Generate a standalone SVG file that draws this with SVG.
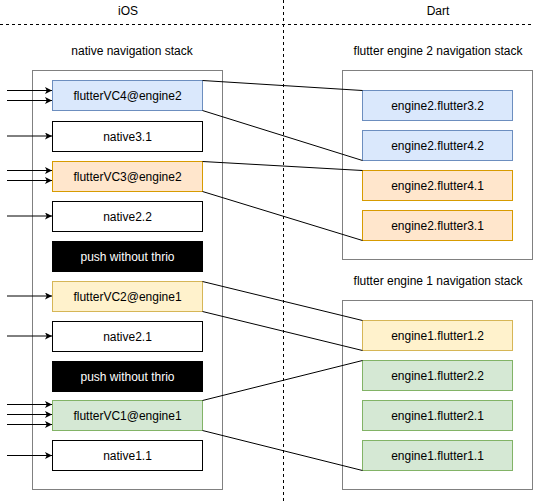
<svg xmlns="http://www.w3.org/2000/svg" width="533" height="501" viewBox="0 0 533 501">
<style>
text{font-family:"Liberation Sans",Arial,Helvetica,sans-serif;font-size:12px;fill:#000;text-anchor:middle}
.cont{fill:none;stroke:#808080;stroke-width:1}
.plain{fill:#fff;stroke:#000}
.black{fill:#000;stroke:none}
.blue{fill:#dae8fc;stroke:#6c8ebf}
.orange{fill:#ffe6cc;stroke:#d79b00}
.yellow{fill:#fff2cc;stroke:#d6b656}
.green{fill:#d5e8d4;stroke:#82b366}
.dash{stroke:#000;stroke-dasharray:3 3;fill:none}
.link{stroke:#000;fill:none;stroke-width:1}
.arr{stroke:#000;fill:none;stroke-width:1;marker-end:url(#ah)}
.w{fill:#fff}
</style>
<defs>
<marker id="ah" viewBox="0 0 10 10" refX="10" refY="5" markerWidth="7" markerHeight="7" markerUnits="userSpaceOnUse" orient="auto">
<path d="M0,0 L10,5 L0,10 L2.5,5 Z" fill="#000"/>
</marker>
</defs>
<g id="lanes">
<line class="dash" x1="0" y1="24.5" x2="533" y2="24.5"/>
<line class="dash" x1="283.5" y1="0" x2="283.5" y2="501"/>
<text x="128" y="15">iOS</text>
<text x="438" y="15">Dart</text>
</g>
<g id="native-stack">
<rect class="cont" x="32.5" y="70.5" width="190" height="419"/>
<text x="132" y="55">native navigation stack</text>
</g>
<g id="engine2-stack">
<rect class="cont" x="342.5" y="70.5" width="190" height="189"/>
<text x="438" y="55">flutter engine 2 navigation stack</text>
</g>
<g id="engine1-stack">
<rect class="cont" x="342.5" y="300.5" width="190" height="189"/>
<text x="438" y="285">flutter engine 1 navigation stack</text>
</g>
<g id="flutterVC4"><rect class="blue" x="52.5" y="80.5" width="150" height="30"/><text x="127.5" y="99.5">flutterVC4@engine2</text></g>
<g id="native3.1"><rect class="plain" x="52.5" y="121.5" width="150" height="30"/><text x="127.5" y="140.5">native3.1</text></g>
<g id="flutterVC3"><rect class="orange" x="52.5" y="161.5" width="150" height="30"/><text x="127.5" y="180.5">flutterVC3@engine2</text></g>
<g id="native2.2"><rect class="plain" x="52.5" y="201.5" width="150" height="30"/><text x="127.5" y="220.5">native2.2</text></g>
<g id="push1"><rect class="black" x="52" y="241" width="151" height="31"/><text class="w" x="127.5" y="260.5">push without thrio</text></g>
<g id="flutterVC2"><rect class="yellow" x="52.5" y="281.5" width="150" height="30"/><text x="127.5" y="300.5">flutterVC2@engine1</text></g>
<g id="native2.1"><rect class="plain" x="52.5" y="321.5" width="150" height="30"/><text x="127.5" y="340.5">native2.1</text></g>
<g id="push2"><rect class="black" x="52" y="361" width="151" height="31"/><text class="w" x="127.5" y="380.5">push without thrio</text></g>
<g id="flutterVC1"><rect class="green" x="52.5" y="400.5" width="150" height="30"/><text x="127.5" y="419.5">flutterVC1@engine1</text></g>
<g id="native1.1"><rect class="plain" x="52.5" y="440.5" width="150" height="30"/><text x="127.5" y="459.5">native1.1</text></g>
<g id="e2f32"><rect class="blue" x="362.5" y="90.5" width="150" height="30"/><text x="437.5" y="109.5">engine2.flutter3.2</text></g>
<g id="e2f42"><rect class="blue" x="362.5" y="130.5" width="150" height="30"/><text x="437.5" y="149.5">engine2.flutter4.2</text></g>
<g id="e2f41"><rect class="orange" x="362.5" y="170.5" width="150" height="30"/><text x="437.5" y="189.5">engine2.flutter4.1</text></g>
<g id="e2f31"><rect class="orange" x="362.5" y="210.5" width="150" height="30"/><text x="437.5" y="229.5">engine2.flutter3.1</text></g>
<g id="e1f12"><rect class="yellow" x="362.5" y="320.5" width="150" height="30"/><text x="437.5" y="339.5">engine1.flutter1.2</text></g>
<g id="e1f22"><rect class="green" x="362.5" y="360.5" width="150" height="30"/><text x="437.5" y="379.5">engine1.flutter2.2</text></g>
<g id="e1f21"><rect class="green" x="362.5" y="400.5" width="150" height="30"/><text x="437.5" y="419.5">engine1.flutter2.1</text></g>
<g id="e1f11"><rect class="green" x="362.5" y="440.5" width="150" height="30"/><text x="437.5" y="459.5">engine1.flutter1.1</text></g>
<g id="connectors">
<line class="link" x1="202.5" y1="80.5" x2="362.5" y2="90.5"/>
<line class="link" x1="202.5" y1="110.5" x2="362.5" y2="160.5"/>
<line class="link" x1="202.5" y1="161.5" x2="362.5" y2="170.5"/>
<line class="link" x1="202.5" y1="191.5" x2="362.5" y2="240.5"/>
<line class="link" x1="202.5" y1="281.5" x2="362.5" y2="320.5"/>
<line class="link" x1="202.5" y1="311.5" x2="362.5" y2="350.5"/>
<line class="link" x1="202.5" y1="400.5" x2="362.5" y2="360.5"/>
<line class="link" x1="202.5" y1="430.5" x2="362.5" y2="470.5"/>
<line class="arr" x1="7" y1="90.5" x2="52" y2="90.5"/>
<line class="arr" x1="7" y1="100.5" x2="52" y2="100.5"/>
<line class="arr" x1="7" y1="136" x2="52" y2="136"/>
<line class="arr" x1="7" y1="170.5" x2="52" y2="170.5"/>
<line class="arr" x1="7" y1="180.5" x2="52" y2="180.5"/>
<line class="arr" x1="7" y1="216" x2="52" y2="216"/>
<line class="arr" x1="7" y1="296" x2="52" y2="296"/>
<line class="arr" x1="7" y1="336" x2="52" y2="336"/>
<line class="arr" x1="7" y1="404.5" x2="52" y2="404.5"/>
<line class="arr" x1="7" y1="414.5" x2="52" y2="414.5"/>
<line class="arr" x1="7" y1="424.5" x2="52" y2="424.5"/>
<line class="arr" x1="7" y1="455.5" x2="52" y2="455.5"/>
</g>
</svg>
